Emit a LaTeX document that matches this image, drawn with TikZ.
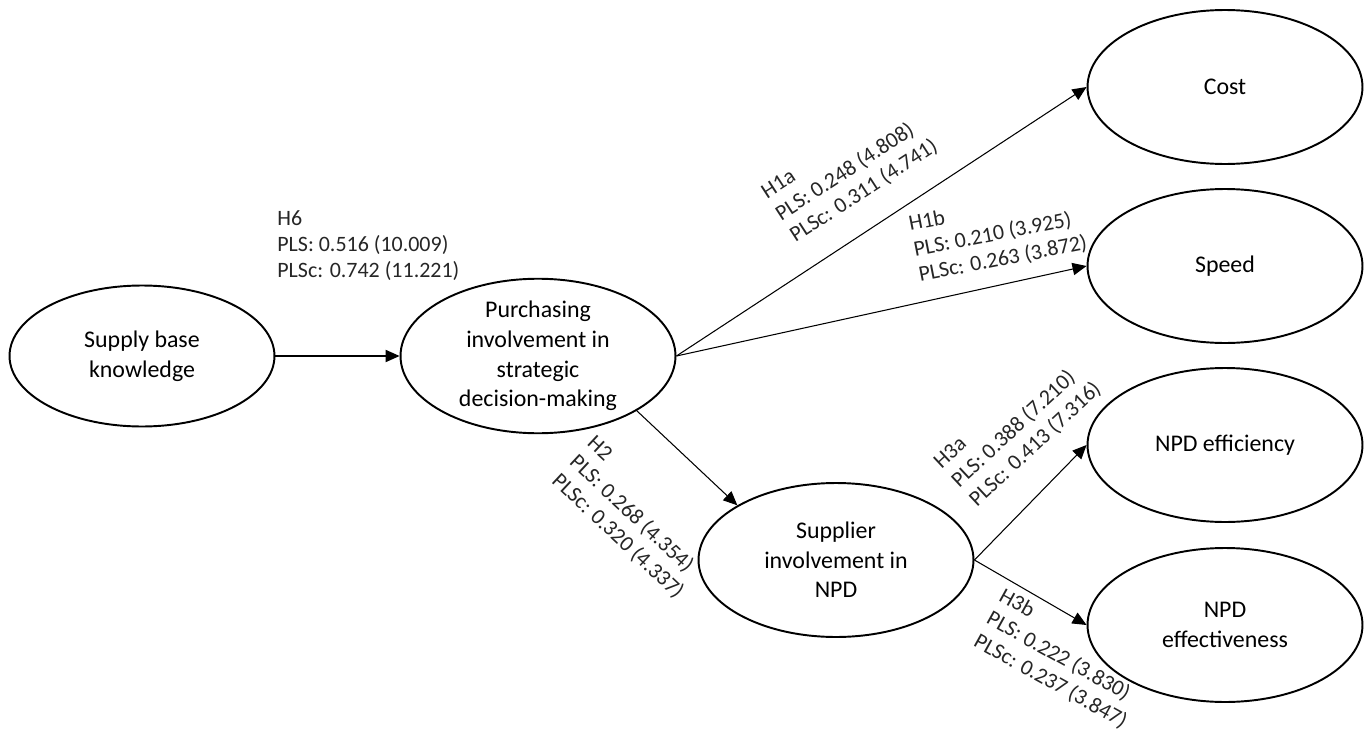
\documentclass[tikz,border=0pt]{standalone}
\usepackage{fontspec}
\setmainfont{Carlito}
\usetikzlibrary{shapes.geometric,arrows.meta}

\tikzset{
  construct/.style={ellipse, draw, line width=1.1pt, minimum width=5.5cm,
    minimum height=3.08cm, inner sep=0pt, align=center,
    font=\fontsize{13.6}{16.8}\selectfont},
  link/.style={line width=0.6pt, -{Triangle[length=8pt,width=7pt]}},
  coef/.style={align=left, inner sep=0pt, text=black!85,
    font=\fontsize{12.5}{14.8}\selectfont},
}

\begin{document}
\begin{tikzpicture}[x=0.02cm, y=-0.02cm]
  \useasboundingbox (0,0) rectangle (1370,730);

  % Constructs
  \node[construct, minimum width=5.3cm, minimum height=2.82cm] (sbk) at (142,356) {Supply base\\knowledge};
  \node[construct] (pinv) at (538,356) {Purchasing\\involvement in\\strategic\\decision-making};
  \node[construct] (cost) at (1225,87) {Cost};
  \node[construct] (speed) at (1225,266) {Speed};
  \node[construct] (sinv) at (836,560) {Supplier\\involvement in\\NPD};
  \node[construct] (npdeff) at (1225,445) {NPD efficiency};
  \node[construct] (npdeffect) at (1225,625) {NPD\\effectiveness};

  % Paths
  \draw[link] (sbk) -- (pinv);
  \draw[link] (pinv.east) -- (cost.west);
  \draw[link] (pinv.east) -- (speed.west);
  \draw[link] (pinv.-29) -- (sinv.151);
  \draw[link] (sinv.east) -- (npdeff.west);
  \draw[link] (sinv.east) -- (npdeffect.west);

  % Path coefficients
  \node[coef, anchor=west] (h6lab) at (277,246) {H6\\PLS: 0.516 (10.009)\\PLSc: 0.742 (11.221)};
  \node[coef, rotate=33] (h1alab) at (850,170) {H1a\\PLS: 0.248 (4.808)\\PLSc: 0.311 (4.741)};
  \node[coef, rotate=11] (h1blab) at (998,234) {H1b\\PLS: 0.210 (3.925)\\PLSc: 0.263 (3.872)};
  \node[coef, rotate=-43] (h2lab) at (635,518) {H2\\PLS: 0.268 (4.354)\\PLSc: 0.320 (4.337)};
  \node[coef, rotate=43] (h3alab) at (1018,426) {H3a\\PLS: 0.388 (7.210)\\PLSc: 0.413 (7.316)};
  \node[coef, rotate=-29] (h3blab) at (1063,659) {H3b\\PLS: 0.222 (3.830)\\PLSc: 0.237 (3.847)};
\end{tikzpicture}
\end{document}
